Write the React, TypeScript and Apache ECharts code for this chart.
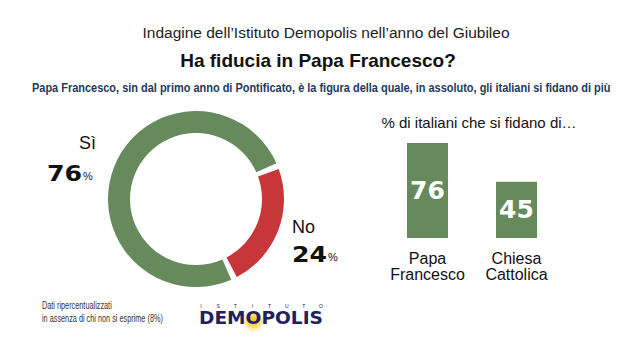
import React, { useEffect, useRef } from "react";
import * as echarts from "echarts";

const surveyTitle = "Indagine dell’Istituto Demopolis nell’anno del Giubileo";
const question = "Ha fiducia in Papa Francesco?";
const subtitle =
  "Papa Francesco, sin dal primo anno di Pontificato, è la figura della quale, in assoluto, gli italiani si fidano di più";
const barTitle = "% di italiani che si fidano di…";

const pieCategories = ["No", "Sì"];
const pieValues = [24, 76];

const barCategories = ["Papa\nFrancesco", "Chiesa\nCattolica"];
const barValues = [76, 45];

const footnoteLines = ["Dati ripercentualizzati", "in assenza di chi non si esprime (8%)"];
const logoSmall = "ISTITUTO";
const logoBig = "DEMOPOLIS";

const GREEN = "#678a5d";
const RED = "#c7373a";
const NAVY = "#1f2160";

function measure(text: string, font: string): number {
  const c = document.createElement("canvas").getContext("2d");
  if (!c) return text.length * 7;
  c.font = font;
  return c.measureText(text).width;
}

export default function App() {
  const ref = useRef<HTMLDivElement>(null);

  useEffect(() => {
    if (!ref.current) return;
    const chart = echarts.init(ref.current, null, { renderer: "svg" });

    const subFont = "bold 13px 'Liberation Sans'";
    const subScale = 579 / measure(subtitle, subFont);

    const footFont = "11px 'Liberation Sans'";
    const footScale = 121 / measure(footnoteLines[1], footFont);

    const logoFont = "900 18px 'DejaVu Sans'";
    const logoW = measure(logoBig, logoFont);
    const logoScale = 124 / logoW;
    const oCenter =
      199 + (measure("DEM", logoFont) + measure("O", logoFont) / 2) * logoScale;

    const numFont = "900 21px 'DejaVu Sans'";
    const numScale = 1.2;

    const siIdx = pieCategories.indexOf("Sì");
    const noIdx = pieCategories.indexOf("No");

    const pct = (x: number, y: number, idx: number) => {
      const t = String(pieValues[idx]);
      const w = measure(t, numFont) * numScale;
      return [
        {
          type: "text",
          x,
          y,
          scaleX: numScale,
          style: {
            text: t,
            font: numFont,
            fill: "#111",
            align: "left",
            verticalAlign: "middle",
          },
        },
        {
          type: "text",
          x: x + w + 1,
          y: y + 3,
          style: {
            text: "%",
            font: "11px 'Liberation Sans'",
            fill: "#111",
            align: "left",
            verticalAlign: "middle",
          },
        },
      ];
    };

    const graphic: any[] = [
      {
        type: "text",
        x: 326,
        y: 32,
        style: {
          text: surveyTitle,
          font: "15.5px 'Liberation Sans'",
          fill: "#222",
          align: "center",
          verticalAlign: "middle",
        },
      },
      {
        type: "text",
        x: 318,
        y: 60,
        style: {
          text: question,
          font: "bold 19px 'Liberation Sans'",
          fill: "#111",
          align: "center",
          verticalAlign: "middle",
        },
      },
      {
        type: "text",
        x: 32,
        y: 88,
        scaleX: subScale,
        style: {
          text: subtitle,
          font: subFont,
          fill: "#1d3a5e",
          align: "left",
          verticalAlign: "middle",
        },
      },
      {
        type: "text",
        x: 479,
        y: 122,
        style: {
          text: barTitle,
          font: "15px 'Liberation Sans'",
          fill: "#111",
          align: "center",
          verticalAlign: "middle",
        },
      },
      {
        type: "text",
        x: 96,
        y: 143,
        style: {
          text: pieCategories[siIdx],
          font: "18px 'Liberation Sans'",
          fill: "#111",
          align: "right",
          verticalAlign: "middle",
        },
      },
      ...pct(47, 173, siIdx),
      {
        type: "text",
        x: 292,
        y: 227,
        style: {
          text: pieCategories[noIdx],
          font: "18px 'Liberation Sans'",
          fill: "#111",
          align: "left",
          verticalAlign: "middle",
        },
      },
      ...pct(292, 254, noIdx),
      ...footnoteLines.map((t, i) => ({
        type: "text",
        x: 42,
        y: 305 + i * 13,
        scaleX: footScale,
        style: {
          text: t,
          font: footFont,
          fill: "#333",
          align: "left",
          verticalAlign: "middle",
        },
      })),
      {
        type: "circle",
        shape: { cx: oCenter, cy: 321, r: 12 },
        style: {
          fill: new echarts.graphic.RadialGradient(0.5, 0.5, 0.5, [
            { offset: 0, color: "rgba(255,190,0,0.95)" },
            { offset: 0.55, color: "rgba(255,205,60,0.7)" },
            { offset: 1, color: "rgba(255,230,140,0)" },
          ]),
        },
      },
      {
        type: "text",
        x: 199,
        y: 318,
        scaleX: logoScale,
        style: {
          text: logoBig,
          font: logoFont,
          fill: NAVY,
          align: "left",
          verticalAlign: "middle",
        },
      },
      ...logoSmall.split("").map((ch, i) => ({
        type: "text",
        x: 201 + i * (120 / (logoSmall.length - 1)),
        y: 306,
        style: {
          text: ch,
          font: "5px 'Liberation Sans'",
          fill: NAVY,
          align: "center",
          verticalAlign: "middle",
        },
      })),
    ];

    chart.setOption({
      animation: false,
      backgroundColor: "#ffffff",
      grid: { left: 383, right: 74, top: 113, bottom: 119 },
      xAxis: {
        type: "category",
        data: barCategories,
        axisLine: { show: false },
        axisTick: { show: false },
        axisLabel: {
          interval: 0,
          margin: 12,
          fontFamily: "'Liberation Sans'",
          fontSize: 16,
          lineHeight: 16,
          color: "#111",
        },
      },
      yAxis: {
        type: "value",
        min: 0,
        max: 100,
        show: false,
        splitLine: { show: false },
      },
      series: [
        {
          type: "pie",
          center: [196, 199],
          radius: [66, 88],
          startAngle: 22,
          clockwise: true,
          padAngle: 4,
          label: { show: false },
          labelLine: { show: false },
          emphasis: { disabled: true },
          data: pieCategories.map((c, i) => ({
            name: c,
            value: pieValues[i],
            itemStyle: { color: c === "No" ? RED : GREEN },
          })),
        },
        {
          type: "bar",
          data: barValues,
          barWidth: 41,
          itemStyle: { color: GREEN },
          label: {
            show: true,
            position: "inside",
            formatter: "{c}",
            fontFamily: "'DejaVu Sans'",
            fontWeight: 900,
            fontSize: 25,
            color: "#ffffff",
          },
        },
      ],
      graphic,
    });

    return () => chart.dispose();
  }, []);

  return (
    <div
      ref={ref}
      style={{ position: "fixed", left: 0, top: 0, width: 635, height: 357 }}
    />
  );
}
